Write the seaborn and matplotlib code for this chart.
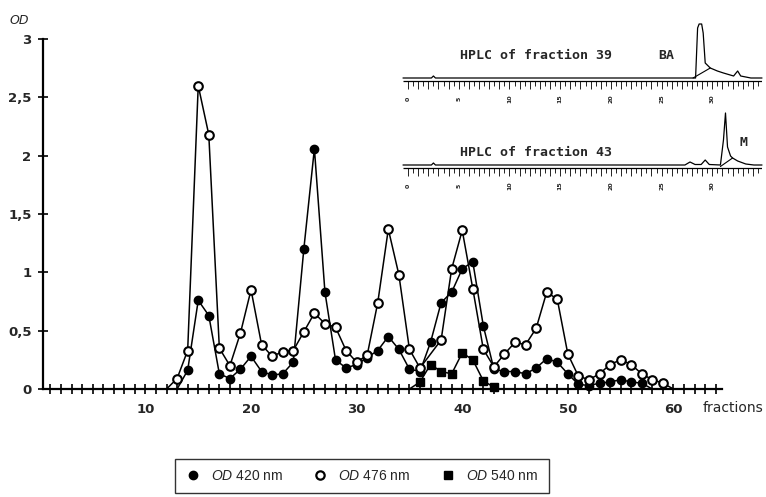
import matplotlib
matplotlib.use("Agg")
import matplotlib.pyplot as plt
import seaborn as sns
from matplotlib.lines import Line2D

# ---------------- data ----------------
frac_420 = [13, 14, 15, 16, 17, 18, 19, 20, 21, 22, 23, 24, 25, 26, 27, 28, 29, 30,
            31, 32, 33, 34, 35, 36, 37, 38, 39, 40, 41, 42, 43, 44, 45, 46, 47, 48,
            49, 50, 51, 52, 53, 54, 55, 56, 57, 58]
od_420 = [0, 0.16, 0.76, 0.63, 0.13, 0.09, 0.17, 0.28, 0.15, 0.12, 0.13, 0.23, 1.20,
          2.06, 0.83, 0.25, 0.18, 0.21, 0.27, 0.33, 0.45, 0.34, 0.17, 0.15, 0.40, 0.74,
          0.83, 1.03, 1.09, 0.54, 0.17, 0.15, 0.15, 0.13, 0.18, 0.26, 0.23, 0.13, 0.04,
          0.03, 0.05, 0.06, 0.08, 0.06, 0.05, 0]

frac_476 = [12, 13, 14, 15, 16, 17, 18, 19, 20, 21, 22, 23, 24, 25, 26, 27, 28, 29,
            30, 31, 32, 33, 34, 35, 36, 38, 39, 40, 41, 42, 43, 44, 45, 46, 47, 48,
            49, 50, 51, 52, 53, 54, 55, 56, 57, 58, 59, 60]
od_476 = [0, 0.09, 0.33, 2.60, 2.18, 0.35, 0.20, 0.48, 0.85, 0.38, 0.28, 0.32, 0.33,
          0.49, 0.65, 0.56, 0.53, 0.33, 0.23, 0.29, 0.74, 1.37, 0.98, 0.34, 0.18, 0.42,
          1.03, 1.36, 0.86, 0.34, 0.19, 0.30, 0.40, 0.38, 0.52, 0.83, 0.77, 0.30, 0.11,
          0.08, 0.13, 0.21, 0.25, 0.21, 0.13, 0.08, 0.05, 0]

frac_540 = [35, 36, 37, 38, 39, 40, 41, 42, 43]
od_540 = [0, 0.06, 0.21, 0.15, 0.13, 0.31, 0.25, 0.07, 0.015]

x_ticks = [10, 20, 30, 40, 50, 60]
x_ticklabels = ["10", "20", "30", "40", "50", "60"]
y_ticks = [0, 0.5, 1, 1.5, 2, 2.5, 3]
y_ticklabels = ["0", "0,5", "1", "1,5", "2", "2,5", "3"]

# HPLC chromatograms (minutes, arbitrary height)
hplc39_t = [-0.5, 2.3, 2.5, 2.7, 28.35, 28.55, 28.7, 28.95, 29.1, 29.3, 29.8, 30.5,
            31.1, 32.1, 32.5, 32.8, 33.8, 34.9]
hplc39_h = [0, 0, 2, 0, 0, 50, 54, 54, 45, 15, 10, 7, 5, 2, 7, 2, 0, 0]
hplc39_base_t = [28.1, 29.8]
hplc39_base_h = [0, 10]

hplc43_t = [-0.5, 2.3, 2.5, 2.7, 27.3, 27.8, 28.3, 28.9, 29.3, 29.7, 30.8, 31.1, 31.3,
            31.5, 31.8, 32.0, 32.5, 33.3, 34.1, 34.9]
hplc43_h = [0, 0, 2, 0, 0, 3, 0.5, 0.5, 5, 0.5, 0, 25, 52, 18, 9, 7, 4, 1, 0, 0]
hplc43_base_t = [30.8, 32.0]
hplc43_base_h = [-1.5, 7]

ruler_labels = ["0", "5", "10", "15", "20", "25", "30"]
ruler_pos = [0, 5, 10, 15, 20, 25, 30]

# ---------------- style ----------------
sns.set_theme(style="ticks")
plt.rcParams['font.family'] = ['DejaVu Sans']
plt.rcParams['mathtext.fontset'] = 'custom'
plt.rcParams['mathtext.it'] = 'Liberation Sans:italic'
plt.rcParams['mathtext.rm'] = 'Liberation Sans'

W, H = 766, 497
fig = plt.figure(figsize=(W / 100, H / 100), dpi=100)
fig.patch.set_facecolor('white')


def px_axes(l, t, r, b):
    return fig.add_axes([l / W, 1 - b / H, (r - l) / W, (b - t) / H])


ax = px_axes(43, 39, 722, 389)
ax.set_facecolor('white')

def visible(vals):
    return [i for i, v in enumerate(vals) if v > 0]

sns.lineplot(x=frac_420, y=od_420, ax=ax, color='black', lw=1.1, marker='o',
             markersize=6.0, markerfacecolor='black', markeredgecolor='black',
             markeredgewidth=1, markevery=visible(od_420), clip_on=False, zorder=3)
sns.lineplot(x=frac_540, y=od_540, ax=ax, color='black', lw=1.1, marker='s',
             markersize=5.8, markerfacecolor='black', markeredgecolor='black',
             markeredgewidth=1, markevery=visible(od_540), clip_on=False, zorder=3)
sns.lineplot(x=frac_476, y=od_476, ax=ax, color='black', lw=1.1, marker='o',
             markersize=6.2, markerfacecolor='white', markeredgecolor='black',
             markeredgewidth=1.5, markevery=visible(od_476), clip_on=False, zorder=4)

ax.set_xlim(0.3, 64.6)
ax.set_ylim(0, 3)
for s in ['top', 'right']:
    ax.spines[s].set_visible(False)
for s in ['left', 'bottom']:
    ax.spines[s].set_linewidth(1.6)
    ax.spines[s].set_color('black')

ax.set_xticks(x_ticks)
ax.set_xticklabels(x_ticklabels, fontweight='bold', fontsize=9.5)
ax.set_xticks(list(range(1, 65)), minor=True)
ax.set_yticks(y_ticks)
ax.set_yticklabels(y_ticklabels, fontweight='bold', fontsize=9.5)
ax.tick_params(axis='x', which='both', direction='inout', length=6.5, width=1.2,
               color='black', pad=7)
ax.tick_params(axis='y', which='both', direction='inout', length=6.5, width=1.2,
               color='black', pad=5)
ax.set_xlabel("")
ax.set_ylabel("")

fig.text(10 / W, 1 - 20 / H, "OD", style='italic', fontsize=9, va='center', ha='left')
fig.text(703 / W, 1 - 408 / H, "fractions", fontsize=10, va='center', ha='left')

# ---------------- legend ----------------
handles = [
    Line2D([], [], ls='none', marker='o', markersize=6, markerfacecolor='black',
           markeredgecolor='black'),
    Line2D([], [], ls='none', marker='o', markersize=6, markerfacecolor='white',
           markeredgecolor='black', markeredgewidth=1.6),
    Line2D([], [], ls='none', marker='s', markersize=6, markerfacecolor='black',
           markeredgecolor='black'),
]
labels = [r"$\mathit{OD}$ 420 nm", r"$\mathit{OD}$ 476 nm", r"$\mathit{OD}$ 540 nm"]
leg = fig.legend(handles, labels, ncol=3, loc='center',
                 bbox_to_anchor=(362 / W, 1 - 476 / H), frameon=True, fancybox=False,
                 edgecolor='black', prop={'family': 'Liberation Sans', 'size': 10},
                 handlelength=1.0, handletextpad=0.8, columnspacing=2.2,
                 borderpad=0.75, borderaxespad=0)
leg.get_frame().set_linewidth(1.0)

# ---------------- HPLC insets ----------------
def draw_hplc(top, t, h, bt, bh, title, peak_label, title_h, peak_xy):
    a = px_axes(403, top, 762, top + 88)
    a.set_xlim(-0.5, 34.9)
    a.set_ylim(-28, 60)
    a.axis('off')
    sns.lineplot(x=t, y=h, ax=a, color='black', lw=0.9, clip_on=False)
    sns.lineplot(x=bt, y=bh, ax=a, color='black', lw=0.8, clip_on=False)
    a.hlines(-3, -0.5, 34.9, color='black', lw=0.9)
    minor = [i * 0.5 for i in range(0, 70)]
    for m in minor:
        ln = -11 if m == int(m) else -8
        a.vlines(m, -3, ln, color='black', lw=0.6)
    for p, lab in zip(ruler_pos, ruler_labels):
        a.text(p, -21, lab, rotation=90, fontsize=4.5, fontweight='bold',
               ha='center', va='center')
    a.text(5.1, title_h, title, family='DejaVu Sans Mono', fontweight='bold',
           fontsize=9.5, ha='left', va='center')
    a.text(peak_xy[0], peak_xy[1], peak_label, family='DejaVu Sans Mono',
           fontweight='bold', fontsize=9.5, ha='left', va='center')
    return a

draw_hplc(18, hplc39_t, hplc39_h, hplc39_base_t, hplc39_base_h,
          "HPLC of fraction 39", "BA", 23, (24.7, 23))
draw_hplc(105, hplc43_t, hplc43_h, hplc43_base_t, hplc43_base_h,
          "HPLC of fraction 43", "M", 13, (32.7, 23))

fig.savefig("out.png", dpi=100, facecolor='white')
